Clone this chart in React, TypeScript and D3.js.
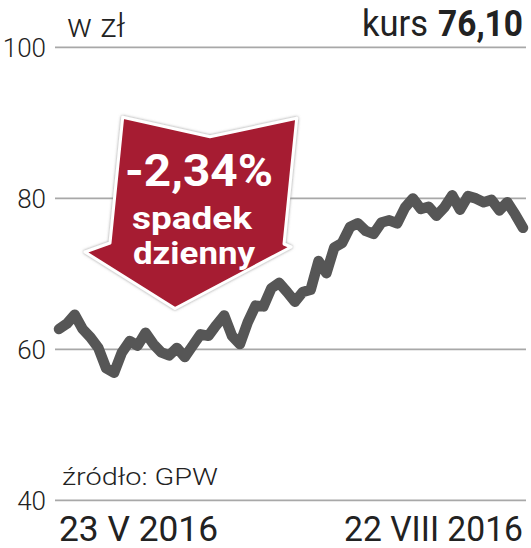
import React from "react";
import * as d3 from "d3";

const prices: number[] = [
  62.7, 63.4, 64.6, 62.7, 61.6, 60.2, 57.5, 56.9, 59.6, 61.1,
  60.5, 62.2, 60.7, 59.6, 59.2, 60.2, 59.0, 60.5, 62.0, 61.8,
  63.2, 64.5, 61.8, 60.7, 63.6, 65.8, 65.7, 68.1, 68.8, 67.6,
  66.3, 67.6, 67.9, 71.7, 70.1, 73.5, 74.1, 76.2, 76.7, 75.7,
  75.3, 76.8, 77.1, 76.7, 78.8, 80.0, 78.6, 78.9, 77.7, 78.8,
  80.4, 78.5, 80.3, 80.0, 79.5, 79.8, 78.4, 79.5, 77.9, 76.1,
];
const yTicks: number[] = [40, 60, 80, 100];
const dateLabels: string[] = ["23 V 2016", "22 VIII 2016"];
const unitLabel = "w zł";
const kursLabel = "kurs";
const kursValue = "76,10";
const sourceLabel = "źródło: GPW";
const arrowLines: string[] = ["-2,34%", "spadek", "dzienny"];

export default function App() {
  const W = 531;
  const H = 548;
  const x = d3.scaleLinear().domain([0, prices.length - 1]).range([59, 523]);
  const y = d3.scaleLinear().domain([40, 100]).range([500.4, 47.4]);
  const line = d3
    .line<number>()
    .x((_, i) => x(i))
    .y((d) => y(d))
    .curve(d3.curveLinear);

  const arrowPts: [number, number][] = [
    [122.7, 117.3],
    [210, 136.7],
    [296.7, 118.3],
    [284, 244],
    [291, 247],
    [175, 308.5],
    [85, 252],
    [110, 243],
  ];
  const arrowPath = d3.line().curve(d3.curveLinearClosed)(arrowPts) || "";

  const font = "Roboto, 'Noto Sans', sans-serif";

  return (
    <svg
      width={W}
      height={H}
      style={{ position: "absolute", left: 0, top: 0, background: "#fff" }}
    >
      <defs>
        <filter id="sh" x="-20%" y="-20%" width="140%" height="140%">
          <feDropShadow dx="0" dy="0" stdDeviation="1.6" floodColor="#777" floodOpacity="0.8" />
        </filter>
      </defs>
      <rect x={0} y={0} width={W} height={H} fill="#fff" />
      {yTicks.map((t) => (
        <g key={t}>
          <line x1={55} x2={526} y1={y(t)} y2={y(t)} stroke="#a8a8a8" strokeWidth={1.6} />
          <text
            x={46}
            y={y(t) + 9.5}
            textAnchor="end"
            fontFamily={font}
            fontWeight={300}
            fontSize={26}
            fill="#222"
          >
            {t}
          </text>
        </g>
      ))}
      <text x={67} y={37} fontFamily={font} fontWeight={300} fontSize={33} fill="#222" textLength={58} lengthAdjust="spacingAndGlyphs">
        {unitLabel}
      </text>
      <text x={362} y={35.5} fontFamily={font} fontWeight={400} fontSize={37} fill="#222" textLength={66} lengthAdjust="spacingAndGlyphs">
        {kursLabel}
      </text>
      <text x={438} y={35.5} fontFamily={font} fontWeight={700} fontSize={36} fill="#222" textLength={85} lengthAdjust="spacingAndGlyphs">
        {kursValue}
      </text>

      <path
        d={line(prices) || ""}
        fill="none"
        stroke="#565656"
        strokeWidth={10.5}
        strokeLinejoin="round"
        strokeLinecap="round"
      />

      <path d={arrowPath} fill="#a61b30" stroke="#fff" strokeWidth={3} strokeLinejoin="round" filter="url(#sh)" />
      <text x={125} y={186} fontFamily={font} fontWeight={700} fontSize={44} fill="#fff" textLength={148} lengthAdjust="spacingAndGlyphs">
        {arrowLines[0]}
      </text>
      <text x={132} y={229} fontFamily={font} fontWeight={700} fontSize={32} fill="#fff" textLength={120} lengthAdjust="spacingAndGlyphs">
        {arrowLines[1]}
      </text>
      <text x={133} y={264} fontFamily={font} fontWeight={700} fontSize={32} fill="#fff" textLength={122} lengthAdjust="spacingAndGlyphs">
        {arrowLines[2]}
      </text>

      <text x={62} y={485} fontFamily={font} fontWeight={300} fontSize={24} fill="#222" textLength={156} lengthAdjust="spacingAndGlyphs">
        {sourceLabel}
      </text>
      <text x={59} y={540.5} fontFamily={font} fontWeight={400} fontSize={35} fill="#222" textLength={159} lengthAdjust="spacingAndGlyphs">
        {dateLabels[0]}
      </text>
      <text x={344} y={540.5} fontFamily={font} fontWeight={400} fontSize={35} fill="#222" textLength={179} lengthAdjust="spacingAndGlyphs">
        {dateLabels[1]}
      </text>
    </svg>
  );
}
